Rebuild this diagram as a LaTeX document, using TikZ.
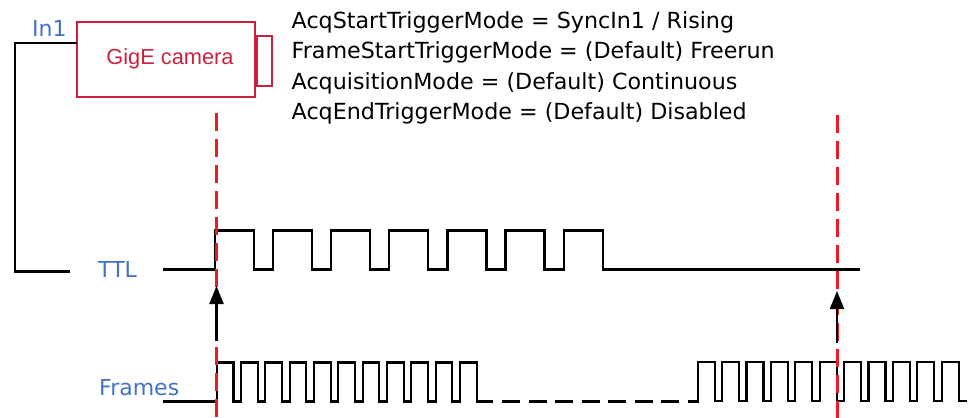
\documentclass[tikz,border=0pt]{standalone}
\usepackage{fontspec}
\setmainfont{DejaVu Sans}
\newfontfamily\camfont{Liberation Sans}
\usetikzlibrary{arrows.meta}
\definecolor{camred}{RGB}{206,32,62}
\definecolor{trigred}{RGB}{237,28,36}
\definecolor{lblue}{RGB}{68,114,196}
\begin{document}
\begin{tikzpicture}[x=1pt,y=-1pt,
  wire/.style={line width=2.2pt,line join=miter},
  marker/.style={trigred,line width=3pt,dash pattern=on 18pt off 8pt},
  trig/.style={line width=2.2pt,-{Triangle[length=18pt,width=14pt]}},
  lbl/.style={lblue,font=\fontsize{22}{25}\selectfont,inner sep=0pt,anchor=base west},
  txt/.style={font=\fontsize{22.2}{25}\selectfont,inner sep=0pt,anchor=base west}]
\useasboundingbox (0,0) rectangle (970,418);
% camera
\node[draw=camred,line width=2pt,minimum width=178pt,minimum height=75pt,inner sep=0pt] (cam) at (166,59.5) {};
\node[camred,font=\camfont\fontsize{21.8}{25}\selectfont,inner sep=0pt,anchor=base] (camtxt) at (170,64) {GigE camera};
\node[draw=camred,line width=2pt,minimum width=15pt,minimum height=50pt,inner sep=0pt,anchor=west] (lens) at (cam.east |- 0,61) {};
% In1 wire
\coordinate (wtop) at (77,43);
\coordinate (wend) at (70,271.5);
\draw[wire] (wtop) -| (15,271.5) -- (wend);
\node[lbl] (in1) at (32,36) {In1};
% labels
\node[lbl] (ttl) at (98,277) {TTL};
\node[lbl] (frames) at (99,395) {Frames};
% settings
\node[txt] (s1) at (291.5,28.3) {AcqStartTriggerMode = SyncIn1 / Rising};
\node[txt] (s2) at (291.5,58.8) {FrameStartTriggerMode = (Default) Freerun};
\node[txt] (s3) at (291.5,89.3) {AcquisitionMode = (Default) Continuous};
\node[txt] (s4) at (291.5,119.8) {AcqEndTriggerMode = (Default) Disabled};
% TTL waveform
\draw[wire] (163,269.5) foreach \k in {0,...,6} { -- ({215+58.1*\k},269.5) -- ++(0,-39) -- ++(39,0) -- ++(0,39) } -- (860,269.5);
% Frames waveform
\draw[wire] (163,401.5) foreach \k in {0,...,10} { -- ({216.7+24.33*\k},401.5) -- ++(0,-39) -- ++(16.7,0) -- ++(0,39) } -- (493,401.5);
\draw[line width=3pt,dash pattern=on 18pt off 8.5pt] (502,401.3) -- (698.7,401.3);
\draw[wire] (697.7,401) foreach \k in {0,...,10} { -- ({697.7+24.4*\k},401) -- ++(0,-39) -- ++(17,0) -- ++(0,39) } -- (967,401);
% trigger markers
\coordinate (m1t) at (216.5,113);
\coordinate (m1b) at (216.5,418);
\coordinate (m2t) at (837,115);
\coordinate (m2b) at (837,418);
\draw[marker] (m1t) -- (m1b);
\draw[marker] (m2t) -- (m2b);
% arrows
\coordinate (a1s) at (216.5,341);
\coordinate (a1e) at (216.5,286);
\coordinate (a2s) at (837,343);
\coordinate (a2e) at (837,291);
\draw[trig] (a1s) -- (a1e);
\draw[trig] (a2s) -- (a2e);
\end{tikzpicture}
\end{document}
